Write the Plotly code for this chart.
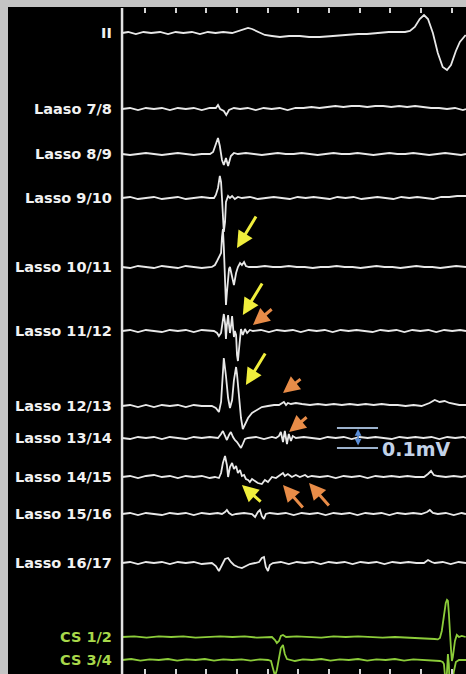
import plotly.graph_objects as go

# ---------------- DATA (time in ms from sweep start, amplitude in microvolts) ----------------
channel_names = ["II", "Laaso 7/8", "Lasso 8/9", "Lasso 9/10", "Lasso 10/11", "Lasso 11/12",
                 "Lasso 12/13", "Lasso 13/14", "Lasso 14/15", "Lasso 15/16", "Lasso 16/17",
                 "CS 1/2", "CS 3/4"]

ch_ii = [(0,0),(20,5),(45,-5),(70,5),(95,0),(124,5),(150,-5),(175,5),(200,0),(228,5),(254,-5),(280,5),
         (305,0),(330,5),(359,0),(378,10),(398,20),(411,25),(424,20),(443,5),(466,-10),(489,-15),(515,-20),
         (545,-15),(580,-15),(610,-20),(645,-20),(688,-15),(720,-10),(743,-10),(770,-5),(799,-5),(841,0),
         (870,5),(906,5),(923,5),(939,10),(955,30),(971,70),(985,90),(998,70),(1014,0),(1030,-100),
         (1046,-170),(1060,-185),(1073,-160),(1089,-90),(1102,-45),(1121,-10)]

ch_l78 = [(0,0),(26,5),(52,-5),(78,5),(104,0),(130,5),(156,-5),(182,5),(208,0),(234,5),(260,-5),(286,5),
          (306,5),(313,20),(320,0),(332,-10),(340,-30),(349,-5),(365,5),(385,0),(410,5),(436,-5),(462,5),
          (488,0),(514,5),(540,-5),(566,5),(592,5),(618,10),(644,5),(670,10),(696,15),(722,10),(748,15),
          (774,15),(800,10),(826,15),(852,15),(878,10),(904,15),(930,10),(956,15),(982,10),(1008,5),
          (1034,5),(1060,0),(1086,5),(1112,-5),(1122,0)]

ch_l89 = [(0,0),(26,-5),(52,0),(78,5),(104,0),(130,-5),(156,0),(182,5),(208,0),(234,-5),(260,0),(287,0),
          (297,10),(306,50),(313,80),(319,40),(326,-30),(332,-55),(339,-20),(346,-60),(355,-10),(365,5),
          (378,0),(404,5),(430,0),(456,-5),(482,0),(508,5),(534,0),(560,0),(586,5),(612,0),(638,-5),
          (664,0),(690,5),(716,0),(742,0),(768,5),(794,0),(820,-5),(846,0),(872,5),(898,0),(924,0),
          (950,5),(976,0),(1002,-5),(1028,0),(1054,5),(1080,0),(1106,-5),(1122,0)]

ch_l910 = [(0,0),(26,5),(52,-5),(78,0),(104,5),(130,-5),(156,0),(182,5),(208,-5),(234,0),(260,5),(286,0),
           (300,0),(306,15),(313,50),(319,110),(323,80),(326,0),(329,-100),(332,-170),(336,-120),(339,-20),
           (346,10),(352,0),(359,10),(368,-5),(378,5),(391,0),(417,5),(443,-5),(469,0),(495,5),(521,0),
           (547,-5),(573,5),(599,0),(625,5),(651,0),(677,-5),(703,5),(729,0),(755,5),(781,-5),(807,0),
           (833,5),(859,0),(885,-5),(911,5),(937,0),(963,5),(989,0),(1015,-5),(1041,5),(1067,5),
           (1093,10),(1122,10)]

ch_l1011 = [(0,0),(26,-5),(52,5),(78,0),(104,-5),(130,5),(156,0),(182,-5),(208,5),(234,0),(260,-5),(293,0),
            (303,10),(310,30),(316,50),(323,70),(326,150),(329,190),(332,100),(336,-50),(339,-190),
            (342,-130),(346,-40),(349,-10),(352,0),(359,-60),(365,-90),(372,-30),(378,0),(385,20),(391,10),
            (398,25),(404,5),(414,0),(440,0),(466,5),(492,0),(518,0),(544,5),(570,0),(596,0),(622,-5),
            (648,0),(674,0),(700,5),(726,0),(752,0),(778,-5),(804,0),(830,5),(856,0),(882,0),(908,-5),
            (934,0),(960,5),(986,0),(1012,0),(1038,-5),(1064,0),(1090,5),(1122,0)]

ch_l1112 = [(0,0),(26,5),(52,-5),(78,5),(104,0),(130,-5),(156,5),(182,0),(208,5),(234,-5),(260,5),(286,0),
            (300,0),(310,-10),(316,-25),(323,-10),(329,50),(332,85),(336,40),(339,-40),(342,30),(346,80),
            (349,30),(352,-10),(355,20),(359,75),(362,20),(365,-30),(368,0),(372,-20),(375,-120),
            (378,-150),(381,-100),(385,-20),(388,10),(394,-20),(401,10),(408,-10),(417,5),(427,0),(453,5),
            (479,-5),(505,5),(531,0),(557,5),(583,-5),(609,5),(635,0),(661,5),(687,-5),(713,5),(739,0),
            (765,5),(791,0),(817,-5),(843,5),(869,0),(895,5),(921,-5),(947,5),(973,0),(999,5),(1025,-5),
            (1051,5),(1077,0),(1103,5),(1122,0)]

ch_l1213 = [(0,0),(26,5),(52,-5),(78,5),(104,-5),(130,5),(156,0),(182,5),(208,-5),(234,5),(260,0),(293,0),
            (306,-10),(316,-30),(323,20),(329,150),(332,240),(339,150),(346,40),(352,-10),(359,30),
            (365,130),(372,195),(375,160),(381,40),(388,-60),(394,-115),(401,-95),(411,-60),(424,-35),
            (440,-20),(456,-5),(476,0),(496,5),(512,5),(522,15),(528,20),(535,5),(541,15),(551,10),
            (567,15),(587,10),(613,5),(639,10),(665,5),(691,10),(717,5),(743,10),(769,5),(795,10),(821,5),
            (847,10),(873,5),(899,5),(925,0),(951,5),(977,0),(1003,15),(1020,30),(1036,20),(1052,25),
            (1068,15),(1084,10),(1100,5),(1122,5)]

ch_l1314 = [(0,0),(26,-5),(52,5),(78,0),(104,5),(130,-5),(156,5),(182,0),(208,-5),(234,5),(260,0),(286,5),
            (313,0),(323,20),(329,35),(336,10),(342,-10),(349,15),(355,30),(362,5),(368,-10),(375,-20),
            (381,-35),(388,-50),(394,-30),(401,-5),(411,0),(437,5),(463,-5),(489,5),(502,0),(512,10),
            (518,30),(525,-20),(531,35),(538,-30),(544,20),(551,-15),(557,10),(567,0),(593,5),(619,0),
            (645,-5),(671,5),(697,0),(723,5),(749,-5),(775,5),(801,0),(827,5),(853,0),(879,-5),(905,5),
            (931,0),(957,5),(983,0),(1009,5),(1035,-5),(1061,5),(1087,0),(1113,5),(1122,0)]

ch_l1415 = [(0,0),(26,5),(52,-5),(78,5),(104,10),(130,0),(156,5),(182,-5),(208,5),(234,0),(260,5),(286,-5),
            (303,0),(316,-5),(323,20),(329,70),(336,105),(342,60),(346,0),(352,50),(359,70),(365,40),
            (372,55),(378,20),(385,35),(391,5),(398,10),(404,-10),(411,-15),(417,-25),(424,-10),(434,-20),
            (443,-30),(456,-35),(466,-15),(476,-25),(489,0),(502,-5),(515,10),(525,20),(531,5),(541,15),
            (554,0),(567,10),(580,0),(597,10),(606,0),(619,5),(645,0),(671,5),(697,-5),(723,5),(749,0),
            (775,5),(801,-5),(827,5),(853,0),(879,5),(905,0),(931,5),(957,0),(985,0),(998,15),(1008,30),
            (1017,10),(1030,5),(1056,0),(1082,5),(1108,0),(1122,5)]

ch_l1516 = [(0,0),(26,5),(52,-5),(78,5),(104,0),(130,-5),(156,5),(182,0),(208,5),(234,-5),(260,5),(286,0),
            (312,5),(326,0),(336,10),(342,20),(349,5),(359,-5),(372,0),(398,5),(424,0),(434,-15),(443,10),
            (450,20),(456,-10),(463,-25),(469,0),(482,5),(508,0),(534,5),(560,-5),(586,5),(612,0),(638,5),
            (664,-5),(690,5),(716,0),(742,5),(768,-5),(794,5),(820,0),(846,5),(872,-5),(898,5),(924,0),
            (950,5),(976,0),(995,10),(1004,20),(1014,5),(1030,0),(1056,5),(1082,-5),(1108,5),(1122,0)]

ch_l1617 = [(0,0),(26,5),(52,-5),(78,5),(104,0),(130,5),(156,-5),(182,5),(208,0),(234,5),(260,-5),(293,0),
            (306,-15),(316,-40),(326,-10),(336,20),(346,25),(355,5),(365,-10),(378,-20),(391,-25),
            (404,-15),(417,-5),(434,0),(447,5),(456,25),(463,30),(469,-20),(476,-40),(482,-10),(492,0),
            (518,5),(544,-5),(570,5),(596,0),(622,5),(648,-5),(674,5),(700,0),(726,5),(752,-5),(778,5),
            (804,0),(830,5),(856,-5),(882,5),(908,0),(934,5),(960,0),(985,0),(998,15),(1010,5),(1020,0),
            (1046,5),(1072,-5),(1098,5),(1122,0)]

ch_cs12 = [(0,0),(40,3),(80,-3),(120,3),(160,0),(200,3),(240,-3),(280,0),(320,3),(360,0),(400,3),(440,-3),
           (476,0),(489,0),(499,-15),(505,-30),(512,-20),(518,5),(525,10),(535,0),(570,3),(610,0),(650,-3),
           (690,3),(730,0),(770,3),(810,0),(850,-3),(890,0),(930,-3),(970,-5),(988,-5),(1004,-8),
           (1020,-10),(1030,-12),(1037,-5),(1043,30),(1050,100),(1056,170),(1060,185),(1063,180),
           (1066,120),(1069,20),(1073,-60),(1076,-120),(1079,-100),(1086,-20),(1092,10),(1099,0),
           (1108,5),(1121,0)]

ch_cs34 = [(0,0),(30,5),(60,-3),(90,3),(120,0),(150,5),(180,-3),(210,3),(240,0),(270,5),(300,-3),(330,3),
           (360,0),(390,3),(420,-3),(450,3),(476,0),(486,-5),(492,-40),(499,-80),(505,-50),(512,20),
           (518,60),(525,75),(531,30),(538,5),(548,0),(564,-5),(590,3),(620,0),(650,5),(680,-3),(710,3),
           (740,0),(770,5),(800,-3),(830,3),(860,0),(890,5),(920,-3),(950,3),(980,0),(1010,-5),(1037,-5),
           (1046,-10),(1050,-20),(1056,-120),(1060,-60),(1063,30),(1066,-20),(1069,-140),(1076,-120),
           (1082,-60),(1089,-10),(1099,0),(1122,0)]

tick_ms = [75, 175, 275, 375, 475, 575, 675, 775, 875, 975, 1075]
scale_bar_uV = 100
scale_label = "0.1mV"

# ---------------- LAYOUT / STYLE ----------------
channels = [ch_ii, ch_l78, ch_l89, ch_l910, ch_l1011, ch_l1112, ch_l1213, ch_l1314,
            ch_l1415, ch_l1516, ch_l1617, ch_cs12, ch_cs34]
baselines = [33, 109, 154, 198, 267, 331, 406, 438, 477, 514, 563, 637, 660]   # vertical slot of each channel
GAIN = 0.2    # display units per microvolt
WHITE = "#e8e8e8"
GREEN = "#8ccc3a"
GREEN_LABEL = "#a8d84a"
colors = [WHITE] * 11 + [GREEN, GREEN]
label_colors = ["#f2f2f2"] * 11 + [GREEN_LABEL, GREEN_LABEL]

fig = go.Figure()
for pts, base, col in zip(channels, baselines, colors):
    fig.add_trace(go.Scatter(
        x=[p[0] for p in pts],
        y=[base - p[1] * GAIN for p in pts],
        mode="lines", line=dict(color=col, width=1.8),
        hoverinfo="skip", showlegend=False))

annotations = []
for name, base, lc in zip(channel_names, baselines, label_colors):
    annotations.append(dict(x=-26, y=base, xref="x", yref="y", text="<b>" + name + "</b>",
                            showarrow=False, xanchor="right", yanchor="middle",
                            font=dict(family="DejaVu Sans", size=14.5, color=lc)))

YELLOW = "#f0ee3c"
ORANGE = "#e88c48"
# arrow: (head_t, head_y, tail_t, tail_y, color)
arrows = [(375, 248, 440, 215, YELLOW), (394, 315, 460, 282, YELLOW), (427, 325, 493, 308, ORANGE),
          (404, 385, 470, 352, YELLOW), (525, 393, 587, 378, ORANGE), (545, 432, 607, 416, ORANGE),
          (391, 485, 457, 503, YELLOW), (525, 485, 594, 509, ORANGE), (610, 483, 679, 507, ORANGE)]
for hx, hy, tx, ty, c in arrows:
    annotations.append(dict(x=hx, y=hy, ax=tx, ay=ty, xref="x", yref="y", axref="x", ayref="y",
                            text="", showarrow=True, arrowhead=2, arrowsize=1.1, arrowwidth=3,
                            arrowcolor=c))

# scale bar on channel Lasso 13/14
sb_base = baselines[7]
half = scale_bar_uV * GAIN / 2
sb_x0, sb_x1, sb_mid = 701, 835, 770
annotations.append(dict(x=sb_mid, y=sb_base - half + 1, ax=sb_mid, ay=sb_base + half - 1,
                        xref="x", yref="y", axref="x", ayref="y", text="", showarrow=True,
                        arrowhead=2, arrowside="end+start", arrowsize=0.9, arrowwidth=1.5,
                        arrowcolor="#5a8ed8"))
annotations.append(dict(x=842, y=sb_base + 11, xref="x", yref="y", text="<b>" + scale_label + "</b>",
                        showarrow=False, xanchor="left", yanchor="middle",
                        font=dict(family="DejaVu Sans", size=19, color="#c2d2e8")))

shapes = [
    dict(type="line", xref="x", yref="paper", x0=0, x1=0, y0=0, y1=1,
         line=dict(color="#e2e2e2", width=2.5)),
    dict(type="line", xref="x", yref="y", x0=sb_x0, x1=sb_x1, y0=sb_base - half, y1=sb_base - half,
         line=dict(color="#9cb2cc", width=2)),
    dict(type="line", xref="x", yref="y", x0=sb_x0, x1=sb_x1, y0=sb_base + half, y1=sb_base + half,
         line=dict(color="#9cb2cc", width=2)),
]

fig.update_layout(
    width=466, height=674,
    margin=dict(l=8, r=0, t=8, b=0, pad=0),
    paper_bgcolor="#c4c4c4", plot_bgcolor="#000000",
    xaxis=dict(range=[-372, 1122], showgrid=False, zeroline=False, showticklabels=False,
               ticks="inside", tickvals=tick_ms, ticklen=5, tickwidth=1.5, tickcolor="#d4d4d4",
               showline=True, linecolor="#000000", linewidth=1, mirror="ticks"),
    yaxis=dict(range=[674, 8], showgrid=False, zeroline=False, showticklabels=False, ticks=""),
    annotations=annotations, shapes=shapes, showlegend=False,
)

fig.write_html("out.html")
